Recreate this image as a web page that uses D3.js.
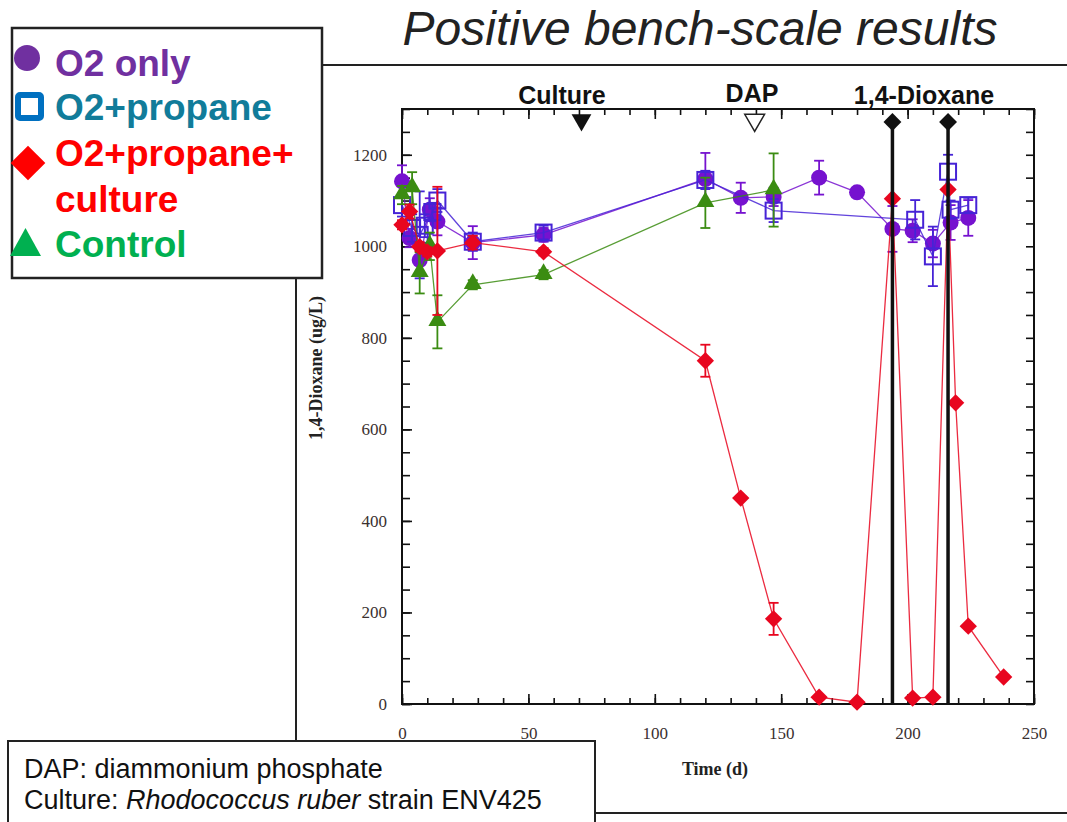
<!DOCTYPE html>
<html>
<head>
<meta charset="utf-8">
<script src="https://cdn.jsdelivr.net/npm/d3@7"></script>
<style>
  body { margin: 0; background: #fff; }
  svg { display: block; }
</style>
</head>
<body>
<div id="chart"></div>
<script>
// days / values / error (ug/L)
var o2Days = [0, 3, 7, 11, 14, 28, 56, 120, 134, 147, 165, 180, 194, 202, 210, 217, 224];
var o2Vals = [1142, 1018, 970, 1080, 1054, 1008, 1025, 1147, 1106, 1108, 1150, 1118, 1038, 1034, 1006, 1052, 1062];
var o2Err  = [35, 20, 30, 25, 30, 36, 15, 57, 33, 20, 37, 10, 50, 25, 30, 38, 39];

var propDays = [0, 4, 7, 9, 12, 14, 28, 56, 120, 147, 203, 210, 216, 217, 224];
var propVals = [1090, 1040, 1025, 1045, 1075, 1100, 1010, 1030, 1145, 1078, 1058, 978, 1163, 1080, 1090];
var propErr  = [25, 30, 95, 25, 20, 25, 20, 15, 20, 25, 43, 65, 37, 20, 16];

var cultDays = [0, 3, 7, 10, 14, 28, 56, 120, 134, 147, 165, 180, 194, 202, 210, 216, 219, 224, 238];
var cultVals = [1047, 1076, 999, 988, 990, 1008, 988, 750, 450, 186, 15, 4, 1104, 13, 15, 1124, 658, 170, 59];
var cultErr  = [10, 15, 10, 10, 140, 15, 8, 35, 0, 35, 0, 0, 0, 0, 0, 0, 0, 0, 0];

var ctrlDays = [0, 4, 7, 11, 14, 28, 56, 120, 147];
var ctrlVals = [1112, 1127, 942, 1000, 835, 916, 938, 1095, 1123];
var ctrlErr  = [20, 35, 45, 30, 58, 10, 10, 55, 80];

var cultureDay = 71, dapDay = 139.5, spikeDays = [194, 216];
var xMajor = [0, 50, 100, 150, 200, 250];
var yMajor = [0, 200, 400, 600, 800, 1000, 1200];

var W = 1067, H = 822;
var svg = d3.select("#chart").append("svg").attr("width", W).attr("height", H);

var x = d3.scaleLinear().domain([0, 250]).range([402, 1034]);
var y = d3.scaleLinear().domain([0, 1300]).range([704, 109]);

// slide frame around the pasted figure
svg.append("rect").attr("x", 296).attr("y", 65).attr("width", 900).attr("height", 748)
  .attr("fill", "none").attr("stroke", "#222").attr("stroke-width", 2);

svg.append("text").attr("x", 700).attr("y", 45).attr("text-anchor", "middle")
  .style("font", "italic 48px 'Liberation Sans', Arial, sans-serif").attr("fill", "#222")
  .text("Positive bench-scale results");

var serif = "'Liberation Serif', 'Times New Roman', serif";
var g = svg.append("g");

function addAxis(ax, tr) {
  var a = g.append("g").attr("transform", tr).call(ax);
  a.select(".domain").remove();
  a.selectAll("line").attr("stroke", "#111").attr("stroke-width", 1.6);
  a.selectAll("text").style("font", "17px " + serif).attr("fill", "#3a3030");
  return a;
}
var minorX = d3.range(0, 251, 10), minorY = d3.range(0, 1301, 50);
addAxis(d3.axisBottom(x).tickValues(minorX).tickFormat("").tickSize(-6), "translate(0,704)");
addAxis(d3.axisBottom(x).tickValues(xMajor).tickSize(-10).tickPadding(23), "translate(0,704)");
addAxis(d3.axisTop(x).tickValues(minorX).tickFormat("").tickSize(-6), "translate(0,109)");
addAxis(d3.axisTop(x).tickValues(xMajor).tickFormat("").tickSize(-10), "translate(0,109)");
addAxis(d3.axisLeft(y).tickValues(minorY).tickFormat("").tickSize(-8), "translate(402,0)");
addAxis(d3.axisLeft(y).tickValues(yMajor).tickFormat(d3.format("d")).tickSize(-10).tickPadding(15), "translate(402,0)");
addAxis(d3.axisRight(y).tickValues(minorY).tickFormat("").tickSize(-8), "translate(1034,0)");

g.append("rect").attr("x", x(0)).attr("y", y(1300)).attr("width", x(250) - x(0)).attr("height", y(0) - y(1300))
  .attr("fill", "none").attr("stroke", "#111").attr("stroke-width", 2);

g.append("text").attr("transform", "translate(322,368) rotate(-90)").attr("text-anchor", "middle")
  .style("font", "bold 18px " + serif).attr("fill", "#222").text("1,4-Dioxane (ug/L)");
g.append("text").attr("x", 715).attr("y", 775).attr("text-anchor", "middle")
  .style("font", "bold 18px " + serif).attr("fill", "#222").text("Time (d)");

function zip(days, vals, errs) {
  return days.map(function(d, i) { return {d: d, v: vals[i], e: errs[i]}; });
}
var series = [
  {data: zip(o2Days, o2Vals, o2Err), color: "#7612cf", shape: "circle"},
  {data: zip(propDays, propVals, propErr), color: "#4623d6", shape: "square"},
  {data: zip(ctrlDays, ctrlVals, ctrlErr), color: "#3b8c12", shape: "triangle"},
  {data: zip(cultDays, cultVals, cultErr), color: "#e8061f", shape: "diamond"}
];

var line = d3.line().x(function(d) { return x(d.d); }).y(function(d) { return y(d.v); });

series.forEach(function(s) {
  var sg = g.append("g");
  sg.append("path").datum(s.data).attr("d", line).attr("fill", "none")
    .attr("stroke", s.color).attr("stroke-width", 1.3).attr("stroke-opacity", 0.85);
  var eb = sg.selectAll(".eb").data(s.data.filter(function(d) { return d.e > 0; })).enter().append("g");
  eb.append("line").attr("x1", function(d) { return x(d.d); }).attr("x2", function(d) { return x(d.d); })
    .attr("y1", function(d) { return y(d.v - d.e); }).attr("y2", function(d) { return y(d.v + d.e); });
  eb.append("line").attr("x1", function(d) { return x(d.d) - 5; }).attr("x2", function(d) { return x(d.d) + 5; })
    .attr("y1", function(d) { return y(d.v - d.e); }).attr("y2", function(d) { return y(d.v - d.e); });
  eb.append("line").attr("x1", function(d) { return x(d.d) - 5; }).attr("x2", function(d) { return x(d.d) + 5; })
    .attr("y1", function(d) { return y(d.v + d.e); }).attr("y2", function(d) { return y(d.v + d.e); });
  eb.selectAll("line").attr("stroke", s.color).attr("stroke-width", 1.8);

  var pts = sg.selectAll(".pt").data(s.data).enter();
  if (s.shape == "circle") {
    pts.append("circle").attr("cx", function(d) { return x(d.d); }).attr("cy", function(d) { return y(d.v); })
      .attr("r", 8).attr("fill", s.color);
  } else if (s.shape == "square") {
    pts.append("rect").attr("x", function(d) { return x(d.d) - 8; }).attr("y", function(d) { return y(d.v) - 8; })
      .attr("width", 16).attr("height", 16).attr("fill", "none").attr("stroke", s.color).attr("stroke-width", 2);
  } else if (s.shape == "triangle") {
    pts.append("path").attr("d", d3.symbol().type(d3.symbolTriangle).size(140))
      .attr("transform", function(d) { return "translate(" + x(d.d) + "," + (y(d.v) - 1) + ")"; })
      .attr("fill", s.color);
  } else {
    pts.append("path").attr("d", d3.symbol().type(d3.symbolSquare).size(150))
      .attr("transform", function(d) { return "translate(" + x(d.d) + "," + y(d.v) + ") rotate(45)"; })
      .attr("fill", s.color);
  }
});

// event markers along the top
var labelFont = "bold 25px 'Liberation Sans', Arial, sans-serif";
var tri = d3.symbol().type(d3.symbolTriangle).size(170);
g.append("path").attr("d", tri).attr("transform", "translate(" + x(cultureDay) + ",120) rotate(180)").attr("fill", "#111");
g.append("path").attr("d", tri).attr("transform", "translate(" + x(dapDay) + ",120) rotate(180)")
  .attr("fill", "#fff").attr("stroke", "#222").attr("stroke-width", 1.5);
g.append("text").attr("x", 562).attr("y", 104).attr("text-anchor", "middle").style("font", labelFont).attr("fill", "#111").text("Culture");
g.append("text").attr("x", 752).attr("y", 102).attr("text-anchor", "middle").style("font", labelFont).attr("fill", "#111").text("DAP");
g.append("text").attr("x", 924).attr("y", 104).attr("text-anchor", "middle").style("font", labelFont).attr("fill", "#111").text("1,4-Dioxane");

spikeDays.forEach(function(d) {
  g.append("line").attr("x1", x(d)).attr("x2", x(d)).attr("y1", 123).attr("y2", y(0))
    .attr("stroke", "#111").attr("stroke-width", 3.5);
  g.append("path").attr("d", d3.symbol().type(d3.symbolSquare).size(160))
    .attr("transform", "translate(" + x(d) + ",122) rotate(45)").attr("fill", "#111");
});

// legend box
var lg = svg.append("g");
lg.append("rect").attr("x", 12).attr("y", 28).attr("width", 310).attr("height", 250)
  .attr("fill", "#fff").attr("stroke", "#222").attr("stroke-width", 2.5);
lg.append("circle").attr("cx", 27).attr("cy", 58).attr("r", 13).attr("fill", "#7030a0");
lg.append("rect").attr("x", 18).attr("y", 95).attr("width", 23).attr("height", 23).attr("rx", 2)
  .attr("fill", "#fff").attr("stroke", "#0070c0").attr("stroke-width", 6);
lg.append("path").attr("d", d3.symbol().type(d3.symbolSquare).size(600))
  .attr("transform", "translate(28,163) rotate(45)").attr("fill", "#ff0000");
lg.append("path").attr("d", "M10,256L41,256L25.5,228Z").attr("fill", "#00b050");
var legFont = "bold 37px 'Liberation Sans', Arial, sans-serif";
var legRows = [
  ["O2 only", "#7030a0", 76],
  ["O2+propane", "#117c9a", 120],
  ["O2+propane+", "#ff0000", 166],
  ["culture", "#ff0000", 212],
  ["Control", "#00b050", 257]
];
legRows.forEach(function(r) {
  lg.append("text").attr("x", 55).attr("y", r[2]).style("font", legFont).attr("fill", r[1]).text(r[0]);
});

// note box
var nb = svg.append("g");
nb.append("rect").attr("x", 8).attr("y", 741).attr("width", 587).attr("height", 120)
  .attr("fill", "#fff").attr("stroke", "#222").attr("stroke-width", 2);
var noteFont = "27px 'Liberation Sans', Arial, sans-serif";
nb.append("text").attr("x", 24).attr("y", 778).style("font", noteFont).attr("fill", "#111").text("DAP: diammonium phosphate");
var t2 = nb.append("text").attr("x", 24).attr("y", 809).style("font", noteFont).attr("fill", "#111");
t2.append("tspan").text("Culture: ");
t2.append("tspan").style("font-style", "italic").text("Rhodococcus ruber");
t2.append("tspan").text(" strain ENV425");
</script>
</body>
</html>
